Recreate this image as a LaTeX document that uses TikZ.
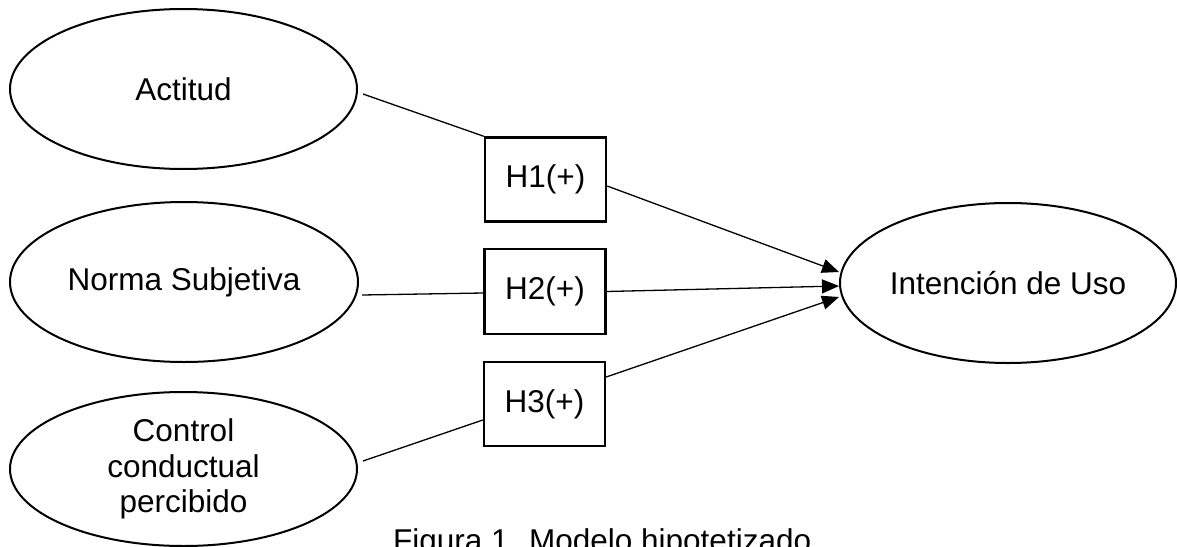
\documentclass[tikz,border=0pt]{standalone}
\usepackage{fontspec}
\setmainfont{Liberation Sans}
\usetikzlibrary{shapes.geometric,arrows.meta,calc}

\tikzset{
  construct/.style={ellipse, draw, line width=2pt, inner sep=0pt,
    align=center, font=\fontsize{31.5}{35.6}\selectfont},
  hypbox/.style={rectangle, draw, line width=2.4pt, inner sep=0pt,
    minimum width=121pt, minimum height=84pt,
    font=\fontsize{31.5}{35.6}\selectfont},
  link/.style={line width=1.3pt},
  effect/.style={link, -{Triangle[length=17pt,width=14pt]}},
}

\begin{document}
\begin{tikzpicture}[x=1pt, y=-1pt]
  \useasboundingbox (0,0) rectangle (1177,546);

  % predictors
  \node[construct, minimum width=347pt, minimum height=160pt] (act)  at (183.5,89)  {Actitud};
  \node[construct, minimum width=348pt, minimum height=160pt] (norm) at (184,282)   {Norma Subjetiva};
  \node[construct, minimum width=347pt, minimum height=154pt] (ctrl) at (183.5,469) {Control\\conductual\\percibido};

  % outcome
  \node[construct, minimum width=336pt, minimum height=160pt] (int) at (1008,283) {Intención de Uso};

  % hypotheses
  \node[hypbox] (h1) at (545.5,179.5) {H1(+)};
  \node[hypbox, minimum height=85pt] (h2) at (545,291.5) {H2(+)};
  \node[hypbox] (h3) at (544.5,404) {H3(+)};

  % paths into the hypotheses
  \draw[link] ($(act.east)+(5,5)$)    -- (h1.north west);
  \draw[link] ($(norm.east)+(3,13)$)  -- ($(h2.west)+(0,1.5)$);
  \draw[link] ($(ctrl.east)+(5,-8)$)  -- ($(h3.west)+(0,16)$);

  % paths into the intention
  \draw[effect] ($(h1.east)+(0,6.5)$) -- ($(int.west)+(0,-11)$);
  \draw[effect] (h2.east)             -- ($(int.west)+(0,3)$);
  \draw[effect] ($(h3.east)+(0,-27)$) -- ($(int.west)+(0,14)$);

  % caption, running past the lower edge
  \node[anchor=base west, inner sep=0pt, font=\fontsize{31.5}{35.6}\selectfont]
    (cap) at (393,551.5) {Figura 1. Modelo hipotetizado};
\end{tikzpicture}
\end{document}
